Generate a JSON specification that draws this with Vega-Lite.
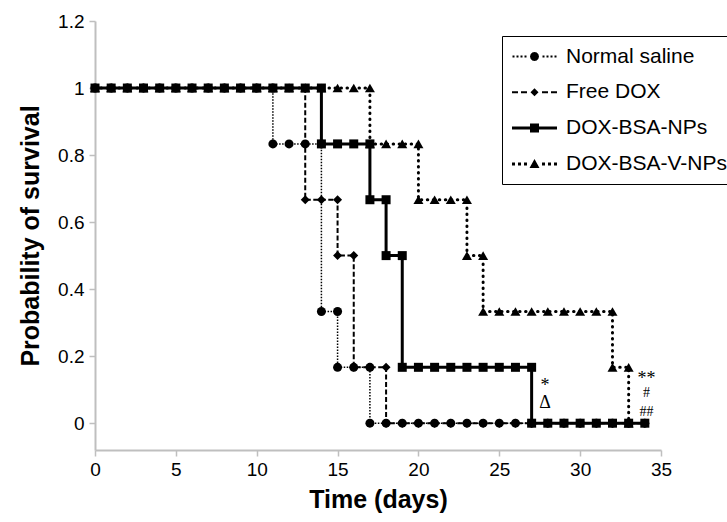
{
  "$schema": "https://vega.github.io/schema/vega-lite/v6.json",
  "width": 566,
  "height": 429,
  "autosize": {"type": "none"},
  "padding": {"left": 95, "top": 21, "right": 66, "bottom": 72},
  "background": "white",
  "config": {
    "view": {"stroke": null},
    "axis": {
      "grid": false,
      "labelFont": "Liberation Sans",
      "labelFontSize": 19,
      "labelColor": "black",
      "titleFont": "Liberation Sans",
      "titleFontSize": 25,
      "titleFontWeight": "bold",
      "titleColor": "black",
      "domainColor": "#bfbfbf",
      "domainWidth": 2,
      "tickColor": "#bfbfbf",
      "tickWidth": 1.5,
      "tickSize": 6,
      "labelFlush": false,
      "labelOverlap": false
    }
  },
  "datasets": {
    "km": [
      {"series": "Normal saline", "day": 0, "p": 1}, {"series": "Normal saline", "day": 1, "p": 1}, {"series": "Normal saline", "day": 2, "p": 1}, {"series": "Normal saline", "day": 3, "p": 1}, {"series": "Normal saline", "day": 4, "p": 1}, {"series": "Normal saline", "day": 5, "p": 1}, {"series": "Normal saline", "day": 6, "p": 1}, {"series": "Normal saline", "day": 7, "p": 1}, {"series": "Normal saline", "day": 8, "p": 1}, {"series": "Normal saline", "day": 9, "p": 1}, {"series": "Normal saline", "day": 10, "p": 1}, {"series": "Normal saline", "day": 11, "p": 1},
      {"series": "Normal saline", "day": 11, "p": 0.8333}, {"series": "Normal saline", "day": 12, "p": 0.8333}, {"series": "Normal saline", "day": 13, "p": 0.8333}, {"series": "Normal saline", "day": 14, "p": 0.8333},
      {"series": "Normal saline", "day": 14, "p": 0.3333}, {"series": "Normal saline", "day": 15, "p": 0.3333},
      {"series": "Normal saline", "day": 15, "p": 0.1667}, {"series": "Normal saline", "day": 16, "p": 0.1667}, {"series": "Normal saline", "day": 17, "p": 0.1667},
      {"series": "Normal saline", "day": 17, "p": 0}, {"series": "Normal saline", "day": 18, "p": 0}, {"series": "Normal saline", "day": 19, "p": 0}, {"series": "Normal saline", "day": 20, "p": 0}, {"series": "Normal saline", "day": 21, "p": 0}, {"series": "Normal saline", "day": 22, "p": 0}, {"series": "Normal saline", "day": 23, "p": 0}, {"series": "Normal saline", "day": 24, "p": 0}, {"series": "Normal saline", "day": 25, "p": 0}, {"series": "Normal saline", "day": 26, "p": 0}, {"series": "Normal saline", "day": 27, "p": 0}, {"series": "Normal saline", "day": 28, "p": 0}, {"series": "Normal saline", "day": 29, "p": 0}, {"series": "Normal saline", "day": 30, "p": 0}, {"series": "Normal saline", "day": 31, "p": 0}, {"series": "Normal saline", "day": 32, "p": 0}, {"series": "Normal saline", "day": 33, "p": 0}, {"series": "Normal saline", "day": 34, "p": 0},

      {"series": "Free DOX", "day": 0, "p": 1}, {"series": "Free DOX", "day": 1, "p": 1}, {"series": "Free DOX", "day": 2, "p": 1}, {"series": "Free DOX", "day": 3, "p": 1}, {"series": "Free DOX", "day": 4, "p": 1}, {"series": "Free DOX", "day": 5, "p": 1}, {"series": "Free DOX", "day": 6, "p": 1}, {"series": "Free DOX", "day": 7, "p": 1}, {"series": "Free DOX", "day": 8, "p": 1}, {"series": "Free DOX", "day": 9, "p": 1}, {"series": "Free DOX", "day": 10, "p": 1}, {"series": "Free DOX", "day": 11, "p": 1}, {"series": "Free DOX", "day": 12, "p": 1}, {"series": "Free DOX", "day": 13, "p": 1},
      {"series": "Free DOX", "day": 13, "p": 0.6667}, {"series": "Free DOX", "day": 14, "p": 0.6667}, {"series": "Free DOX", "day": 15, "p": 0.6667},
      {"series": "Free DOX", "day": 15, "p": 0.5}, {"series": "Free DOX", "day": 16, "p": 0.5},
      {"series": "Free DOX", "day": 16, "p": 0.1667}, {"series": "Free DOX", "day": 17, "p": 0.1667}, {"series": "Free DOX", "day": 18, "p": 0.1667},
      {"series": "Free DOX", "day": 18, "p": 0}, {"series": "Free DOX", "day": 19, "p": 0}, {"series": "Free DOX", "day": 20, "p": 0}, {"series": "Free DOX", "day": 21, "p": 0}, {"series": "Free DOX", "day": 22, "p": 0}, {"series": "Free DOX", "day": 23, "p": 0}, {"series": "Free DOX", "day": 24, "p": 0}, {"series": "Free DOX", "day": 25, "p": 0}, {"series": "Free DOX", "day": 26, "p": 0}, {"series": "Free DOX", "day": 27, "p": 0}, {"series": "Free DOX", "day": 28, "p": 0}, {"series": "Free DOX", "day": 29, "p": 0}, {"series": "Free DOX", "day": 30, "p": 0}, {"series": "Free DOX", "day": 31, "p": 0}, {"series": "Free DOX", "day": 32, "p": 0}, {"series": "Free DOX", "day": 33, "p": 0}, {"series": "Free DOX", "day": 34, "p": 0},

      {"series": "DOX-BSA-NPs", "day": 0, "p": 1}, {"series": "DOX-BSA-NPs", "day": 1, "p": 1}, {"series": "DOX-BSA-NPs", "day": 2, "p": 1}, {"series": "DOX-BSA-NPs", "day": 3, "p": 1}, {"series": "DOX-BSA-NPs", "day": 4, "p": 1}, {"series": "DOX-BSA-NPs", "day": 5, "p": 1}, {"series": "DOX-BSA-NPs", "day": 6, "p": 1}, {"series": "DOX-BSA-NPs", "day": 7, "p": 1}, {"series": "DOX-BSA-NPs", "day": 8, "p": 1}, {"series": "DOX-BSA-NPs", "day": 9, "p": 1}, {"series": "DOX-BSA-NPs", "day": 10, "p": 1}, {"series": "DOX-BSA-NPs", "day": 11, "p": 1}, {"series": "DOX-BSA-NPs", "day": 12, "p": 1}, {"series": "DOX-BSA-NPs", "day": 13, "p": 1}, {"series": "DOX-BSA-NPs", "day": 14, "p": 1},
      {"series": "DOX-BSA-NPs", "day": 14, "p": 0.8333}, {"series": "DOX-BSA-NPs", "day": 15, "p": 0.8333}, {"series": "DOX-BSA-NPs", "day": 16, "p": 0.8333}, {"series": "DOX-BSA-NPs", "day": 17, "p": 0.8333},
      {"series": "DOX-BSA-NPs", "day": 17, "p": 0.6667}, {"series": "DOX-BSA-NPs", "day": 18, "p": 0.6667},
      {"series": "DOX-BSA-NPs", "day": 18, "p": 0.5}, {"series": "DOX-BSA-NPs", "day": 19, "p": 0.5},
      {"series": "DOX-BSA-NPs", "day": 19, "p": 0.1667}, {"series": "DOX-BSA-NPs", "day": 20, "p": 0.1667}, {"series": "DOX-BSA-NPs", "day": 21, "p": 0.1667}, {"series": "DOX-BSA-NPs", "day": 22, "p": 0.1667}, {"series": "DOX-BSA-NPs", "day": 23, "p": 0.1667}, {"series": "DOX-BSA-NPs", "day": 24, "p": 0.1667}, {"series": "DOX-BSA-NPs", "day": 25, "p": 0.1667}, {"series": "DOX-BSA-NPs", "day": 26, "p": 0.1667}, {"series": "DOX-BSA-NPs", "day": 27, "p": 0.1667},
      {"series": "DOX-BSA-NPs", "day": 27, "p": 0}, {"series": "DOX-BSA-NPs", "day": 28, "p": 0}, {"series": "DOX-BSA-NPs", "day": 29, "p": 0}, {"series": "DOX-BSA-NPs", "day": 30, "p": 0}, {"series": "DOX-BSA-NPs", "day": 31, "p": 0}, {"series": "DOX-BSA-NPs", "day": 32, "p": 0}, {"series": "DOX-BSA-NPs", "day": 33, "p": 0}, {"series": "DOX-BSA-NPs", "day": 34, "p": 0},

      {"series": "DOX-BSA-V-NPs", "day": 0, "p": 1}, {"series": "DOX-BSA-V-NPs", "day": 1, "p": 1}, {"series": "DOX-BSA-V-NPs", "day": 2, "p": 1}, {"series": "DOX-BSA-V-NPs", "day": 3, "p": 1}, {"series": "DOX-BSA-V-NPs", "day": 4, "p": 1}, {"series": "DOX-BSA-V-NPs", "day": 5, "p": 1}, {"series": "DOX-BSA-V-NPs", "day": 6, "p": 1}, {"series": "DOX-BSA-V-NPs", "day": 7, "p": 1}, {"series": "DOX-BSA-V-NPs", "day": 8, "p": 1}, {"series": "DOX-BSA-V-NPs", "day": 9, "p": 1}, {"series": "DOX-BSA-V-NPs", "day": 10, "p": 1}, {"series": "DOX-BSA-V-NPs", "day": 11, "p": 1}, {"series": "DOX-BSA-V-NPs", "day": 12, "p": 1}, {"series": "DOX-BSA-V-NPs", "day": 13, "p": 1}, {"series": "DOX-BSA-V-NPs", "day": 14, "p": 1}, {"series": "DOX-BSA-V-NPs", "day": 15, "p": 1}, {"series": "DOX-BSA-V-NPs", "day": 16, "p": 1}, {"series": "DOX-BSA-V-NPs", "day": 17, "p": 1},
      {"series": "DOX-BSA-V-NPs", "day": 17, "p": 0.8333}, {"series": "DOX-BSA-V-NPs", "day": 18, "p": 0.8333}, {"series": "DOX-BSA-V-NPs", "day": 19, "p": 0.8333}, {"series": "DOX-BSA-V-NPs", "day": 20, "p": 0.8333},
      {"series": "DOX-BSA-V-NPs", "day": 20, "p": 0.6667}, {"series": "DOX-BSA-V-NPs", "day": 21, "p": 0.6667}, {"series": "DOX-BSA-V-NPs", "day": 22, "p": 0.6667}, {"series": "DOX-BSA-V-NPs", "day": 23, "p": 0.6667},
      {"series": "DOX-BSA-V-NPs", "day": 23, "p": 0.5}, {"series": "DOX-BSA-V-NPs", "day": 24, "p": 0.5},
      {"series": "DOX-BSA-V-NPs", "day": 24, "p": 0.3333}, {"series": "DOX-BSA-V-NPs", "day": 25, "p": 0.3333}, {"series": "DOX-BSA-V-NPs", "day": 26, "p": 0.3333}, {"series": "DOX-BSA-V-NPs", "day": 27, "p": 0.3333}, {"series": "DOX-BSA-V-NPs", "day": 28, "p": 0.3333}, {"series": "DOX-BSA-V-NPs", "day": 29, "p": 0.3333}, {"series": "DOX-BSA-V-NPs", "day": 30, "p": 0.3333}, {"series": "DOX-BSA-V-NPs", "day": 31, "p": 0.3333}, {"series": "DOX-BSA-V-NPs", "day": 32, "p": 0.3333},
      {"series": "DOX-BSA-V-NPs", "day": 32, "p": 0.1667}, {"series": "DOX-BSA-V-NPs", "day": 33, "p": 0.1667},
      {"series": "DOX-BSA-V-NPs", "day": 33, "p": 0}
    ]
  },
  "data": {"name": "km"},
  "encoding": {
    "x": {
      "field": "day", "type": "quantitative",
      "scale": {"domain": [0, 35], "nice": false, "zero": false},
      "axis": {"values": [0, 5, 10, 15, 20, 25, 30, 35], "title": "Time (days)", "titlePadding": 8, "labelPadding": 4}
    },
    "y": {
      "field": "p", "type": "quantitative",
      "scale": {"domain": [-0.08, 1.2], "nice": false, "zero": false},
      "axis": {"values": [0, 0.2, 0.4, 0.6, 0.8, 1, 1.2], "format": "~g", "title": "Probability of survival", "titlePadding": 14, "labelPadding": 5}
    }
  },
  "layer": [
    {
      "transform": [{"filter": "datum.series === 'Normal saline'"}],
      "mark": {"type": "line", "color": "black", "strokeWidth": 1.5, "strokeDash": [1.5, 1.5]},
      "encoding": {"order": [{"field": "day", "sort": "ascending"}, {"field": "p", "sort": "descending"}]}
    },
    {
      "transform": [{"filter": "datum.series === 'Normal saline'"}],
      "mark": {"type": "point", "shape": "circle", "filled": true, "color": "black", "size": 81, "opacity": 1}
    },
    {
      "transform": [{"filter": "datum.series === 'Free DOX'"}],
      "mark": {"type": "line", "color": "black", "strokeWidth": 2, "strokeDash": [5, 2.5]},
      "encoding": {"order": [{"field": "day", "sort": "ascending"}, {"field": "p", "sort": "descending"}]}
    },
    {
      "transform": [{"filter": "datum.series === 'Free DOX'"}],
      "mark": {"type": "point", "shape": "diamond", "filled": true, "color": "black", "size": 81, "opacity": 1}
    },
    {
      "transform": [{"filter": "datum.series === 'DOX-BSA-NPs'"}],
      "mark": {"type": "line", "color": "black", "strokeWidth": 3},
      "encoding": {"order": [{"field": "day", "sort": "ascending"}, {"field": "p", "sort": "descending"}]}
    },
    {
      "transform": [{"filter": "datum.series === 'DOX-BSA-NPs'"}],
      "mark": {"type": "point", "shape": "square", "filled": true, "color": "black", "size": 81, "opacity": 1}
    },
    {
      "transform": [{"filter": "datum.series === 'DOX-BSA-V-NPs'"}],
      "mark": {"type": "line", "color": "black", "strokeWidth": 3, "strokeDash": [0.5, 5.5], "strokeCap": "round"},
      "encoding": {"order": [{"field": "day", "sort": "ascending"}, {"field": "p", "sort": "descending"}]}
    },
    {
      "transform": [{"filter": "datum.series === 'DOX-BSA-V-NPs'"}],
      "mark": {"type": "point", "shape": "triangle-up", "filled": true, "color": "black", "size": 100, "opacity": 1}
    },
    {
      "mark": {"type": "point", "filled": true, "color": "black", "opacity": 0},
      "encoding": {
        "shape": {
          "field": "series", "type": "nominal",
          "scale": {
            "domain": ["Normal saline", "Free DOX", "DOX-BSA-NPs", "DOX-BSA-V-NPs"],
            "range": [
              "M-22,-1h2v2h-2ZM-18,-1h2v2h-2ZM-14,-1h2v2h-2ZM-10,-1h2v2h-2ZM8,-1h2v2h-2ZM12,-1h2v2h-2ZM16,-1h2v2h-2ZM20,-1h2v2h-2ZM4.5,0L3.9,2.25L2.25,3.9L0,4.5L-2.25,3.9L-3.9,2.25L-4.5,0L-3.9,-2.25L-2.25,-3.9L0,-4.5L2.25,-3.9L3.9,-2.25Z",
              "M-22.5,-1h6v2h-6ZM-13.5,-1h6v2h-6ZM7.5,-1h6v2h-6ZM16.5,-1h6v2h-6ZM0,-4L4,0L0,4L-4,0Z",
              "M-22.5,-1.5H22.5V1.5H-22.5ZM-4.5,-4.5H4.5V4.5H-4.5Z",
              "M-22.5,-1.5h3v3h-3ZM-16.5,-1.5h3v3h-3ZM-10.5,-1.5h3v3h-3ZM7.5,-1.5h3v3h-3ZM13.5,-1.5h3v3h-3ZM19.5,-1.5h3v3h-3ZM0,-5L5,4L-5,4Z"
            ]
          },
          "legend": {
            "orient": "none",
            "legendX": 407,
            "legendY": 15,
            "title": null,
            "padding": 10,
            "strokeColor": "black",
            "fillColor": "white",
            "symbolSize": 4,
            "symbolOffset": 12,
            "labelOffset": 21,
            "rowPadding": 13.8,
            "labelFont": "Liberation Sans",
            "labelFontSize": 21,
            "labelColor": "black",
            "labelLimit": 400,
            "symbolOpacity": 1,
            "symbolFillColor": "black",
            "symbolStrokeWidth": 0,
            "encode": {
              "legend": {"update": {"strokeWidth": {"value": 1.5}}},
              "symbols": {
                "update": {
                  "opacity": {"value": 1},
                  "fill": {"value": "black"},
                  "fillOpacity": {"value": 1}
                }
              }
            }
          }
        }
      }
    },
    {
      "data": {"values": [
        {"label": "*", "day": 27.83, "p": 0.111},
        {"label": "Δ", "day": 27.83, "p": 0.061},
        {"label": "**", "day": 34.1, "p": 0.133}
      ]},
      "mark": {"type": "text", "font": "Liberation Serif", "fontSize": 18, "color": "black"},
      "encoding": {"text": {"field": "label"}}
    },
    {
      "data": {"values": [
        {"label": "#", "day": 34.1, "p": 0.09},
        {"label": "##", "day": 34.1, "p": 0.034}
      ]},
      "mark": {"type": "text", "font": "Liberation Serif", "fontSize": 14, "color": "black"},
      "encoding": {"text": {"field": "label"}}
    }
  ]
}
